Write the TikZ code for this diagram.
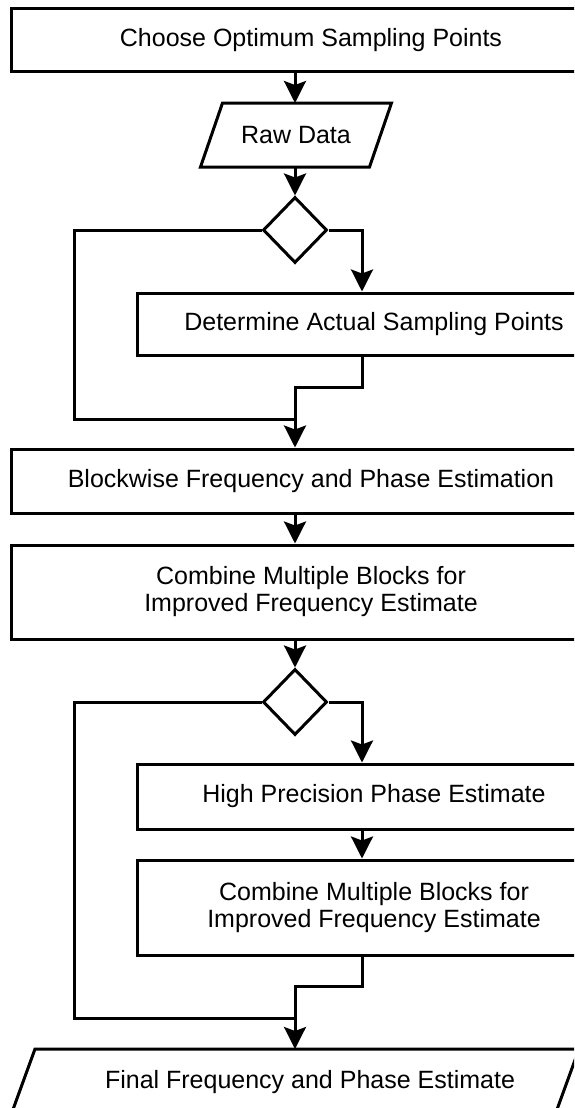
\documentclass[tikz,border=0pt]{standalone}
\usepackage{fontspec}
\setmainfont{Liberation Sans}
\usetikzlibrary{arrows.meta,shapes.geometric,calc}
\begin{document}
\begin{tikzpicture}[x=1pt,y=-1pt,
  ln/.style={line width=3pt},
  box/.style={draw, ln, rectangle, inner sep=0pt, align=center,
    font=\fontsize{25}{27}\selectfont},
  paratext/.style={rectangle, inner sep=0pt, outer sep=0pt, align=center,
    font=\fontsize{25}{27}\selectfont},
  dec/.style={draw, ln, diamond, minimum width=64pt, minimum height=66pt, inner sep=0pt},
  arr/.style={ln, -{Stealth[length=22pt,width=22pt,inset=4pt]}}]
\useasboundingbox (0,0) rectangle (574,1108);
\clip (0,0) rectangle (574,1108);
\fill[white] (0,0) rectangle (574,1108);

% nodes
\node[box, minimum width=600pt, minimum height=63pt] (b1) at (311,40.5) {Choose Optimum Sampling Points};
\node[paratext, minimum width=169pt, minimum height=64pt] (raw) at (296,135) {Raw Data};
\draw[ln] ($(raw.north west)+(11,0)$) -- ($(raw.north east)+(11,0)$)
  -- ($(raw.south east)+(-11,0)$) -- ($(raw.south west)+(-11,0)$) -- cycle;
\node[dec] (d1) at (295,230) {};
\node[box, minimum width=474pt, minimum height=62pt] (b2) at (374,324) {Determine Actual Sampling Points};
\node[box, minimum width=600pt, minimum height=64pt] (b3) at (311,481) {Blockwise Frequency and Phase Estimation};
\node[box, minimum width=600pt, minimum height=94pt] (b4) at (311,592) {Combine Multiple Blocks for\\Improved Frequency Estimate};
\node[dec] (d2) at (295,702) {};
\node[box, minimum width=474pt, minimum height=65pt] (b5) at (374,796.5) {High Precision Phase Estimate};
\node[box, minimum width=474pt, minimum height=95pt] (b6) at (374,907.5) {Combine Multiple Blocks for\\Improved Frequency Estimate};
\node[paratext, minimum width=544pt, minimum height=66pt] (fin) at (295,1082) {\hspace*{30pt}Final Frequency and Phase Estimate};
\draw[ln] ($(fin.north west)+(12,0)$) -- ($(fin.north east)+(12,0)$)
  -- ($(fin.south east)+(-12,0)$) -- ($(fin.south west)+(-12,0)$) -- cycle;

% helper coordinates
\coordinate (R) at (362,0);
\coordinate (L1) at (74,419);
\coordinate (M1) at (295,419);
\coordinate (S1) at (295,387);
\coordinate (L2) at (74,1018);
\coordinate (M2) at (295,1018);
\coordinate (S2) at (295,986);

% connectors
\draw[arr] (d1.north |- b1.south) -- (d1.north |- raw.north);
\draw[arr] (d1.north |- raw.south) -- (d1.north);
\draw[ln] (d1.west) -- (d1.west -| L1) -- (L1) -- (M1);
\draw[arr] (d1.east) -| (R |- b2.north);
\draw[arr] (R |- b2.south) |- (S1) -- (S1 |- b3.north);
\draw[arr] (d1.south |- b3.south) -- (d1.south |- b4.north);
\draw[arr] (d2.north |- b4.south) -- (d2.north);
\draw[ln] (d2.west) -- (d2.west -| L2) -- (L2) -- (M2);
\draw[arr] (d2.east) -| (R |- b5.north);
\draw[arr] (R |- b5.south) -- (R |- b6.north);
\draw[arr] (R |- b6.south) |- (S2) -- (S2 |- fin.north);
\end{tikzpicture}
\end{document}
